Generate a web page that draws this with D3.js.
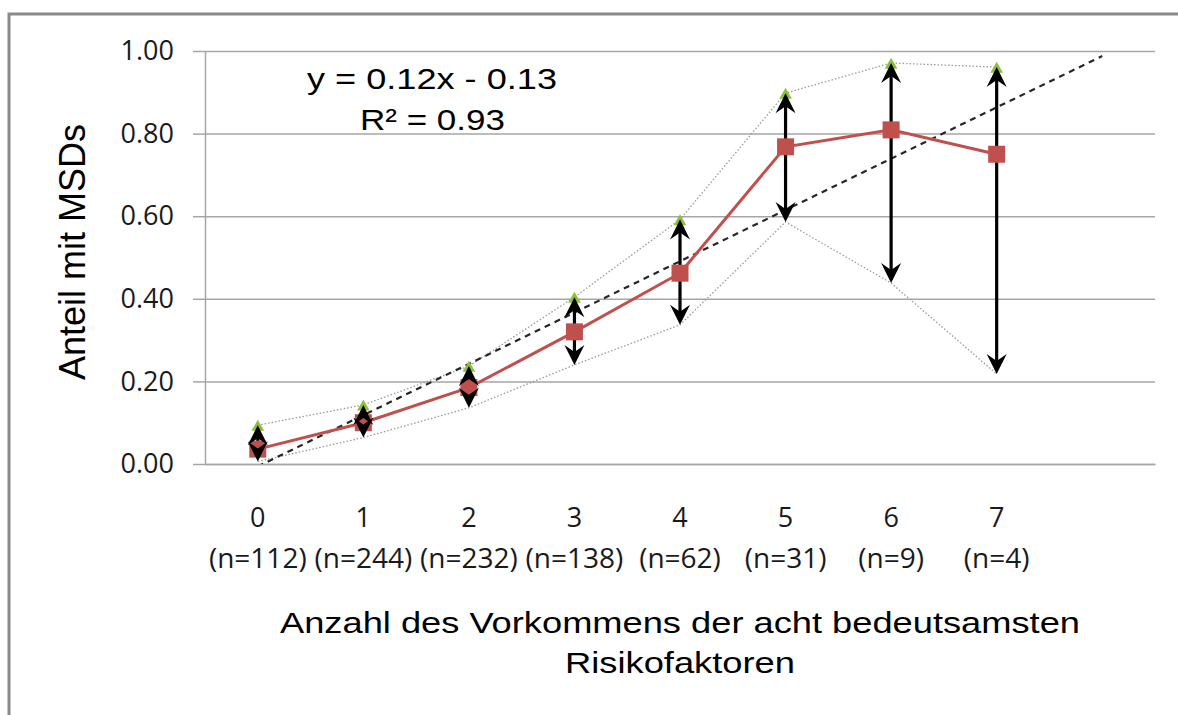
<!DOCTYPE html>
<html lang="de">
<head>
    <meta charset="UTF-8">
    <title>Anteil mit MSDs</title>
    <style>
        body { margin: 0; background: #fff; }
        svg { display: block; }
    </style>
</head>
<body>
    <div id="chart"></div>
    <script src="https://d3js.org/d3.v7.min.js"></script>
    <script>
        const width = 1178;
        const height = 715;

        // data
        const categories = ["0", "1", "2", "3", "4", "5", "6", "7"];
        const nLabels = ["(n=112)", "(n=244)", "(n=232)", "(n=138)", "(n=62)", "(n=31)", "(n=9)", "(n=4)"];
        const shares = [0.036, 0.10, 0.185, 0.32, 0.462, 0.768, 0.809, 0.75];
        const upper = [0.094, 0.143, 0.237, 0.404, 0.592, 0.898, 0.971, 0.961];
        const lower = [0.006, 0.064, 0.136, 0.240, 0.337, 0.586, 0.438, 0.218];
        const yTicks = [0, 0.2, 0.4, 0.6, 0.8, 1.0];
        const equation = ["y = 0.12x - 0.13", "R\u00b2 = 0.93"];

        const plotLeft = 205, plotRight = 1155, plotTop = 51, plotBottom = 464;

        const svg = d3.select("#chart").append("svg")
            .attr("width", width)
            .attr("height", height);

        // outer frame, runs off the right and bottom edge
        svg.append("rect")
            .attr("x", 9).attr("y", 14)
            .attr("width", 1200).attr("height", 800)
            .attr("fill", "none")
            .attr("stroke", "#8a8a8a")
            .attr("stroke-width", 3);

        // 9 slots, last one left empty (trend forecast)
        const x = d3.scaleBand().domain(d3.range(9)).range([plotLeft, plotRight]);
        const cx = i => x(i) + x.bandwidth() / 2;
        const y = d3.scaleLinear().domain([0, 1]).range([plotBottom, plotTop]);

        // grid
        svg.append("g")
            .attr("transform", `translate(${plotLeft},0)`)
            .call(d3.axisLeft(y).tickValues(yTicks).tickSize(-(plotRight - plotLeft)).tickFormat(""))
            .call(g => g.select(".domain").remove())
            .call(g => g.selectAll("line").attr("stroke", "#a6a6a6").attr("stroke-width", 1.5));

        // y axis
        const yAxis = svg.append("g")
            .attr("transform", `translate(${plotLeft},0)`)
            .call(d3.axisLeft(y).tickValues(yTicks).tickSize(12).tickPadding(19)
                .tickFormat(d3.format(".2f")).tickSizeOuter(0));
        yAxis.select(".domain").attr("stroke", "#a6a6a6").attr("stroke-width", 1.5);
        yAxis.selectAll("line").attr("stroke", "#a6a6a6").attr("stroke-width", 1.5);
        yAxis.selectAll("text")
            .attr("font-family", "'Open Sans', sans-serif")
            .attr("font-size", 27)
            .attr("fill", "#1a1a1a");

        // x axis
        const xAxis = svg.append("g")
            .attr("transform", `translate(0,${plotBottom})`)
            .call(d3.axisBottom(x).tickValues(d3.range(8)).tickSize(0).tickSizeOuter(0)
                .tickFormat(i => categories[i]));
        xAxis.select(".domain").attr("stroke", "#a6a6a6").attr("stroke-width", 1.5);
        xAxis.selectAll("text")
            .attr("y", 63).attr("dy", 0)
            .attr("font-family", "'Open Sans', sans-serif")
            .attr("font-size", 27)
            .attr("fill", "#1a1a1a");
        xAxis.selectAll(".tick")
            .append("text")
            .attr("y", 104)
            .attr("text-anchor", "middle")
            .attr("font-family", "'Open Sans', sans-serif")
            .attr("font-size", 28)
            .attr("fill", "#1a1a1a")
            .text(i => nLabels[i]);

        // clip for the trend line
        svg.append("clipPath").attr("id", "plot")
            .append("rect")
            .attr("x", plotLeft).attr("y", plotTop - 10)
            .attr("width", plotRight - plotLeft).attr("height", plotBottom - plotTop + 10);

        const idx = d3.range(categories.length);

        // dotted high/low lines
        const dotted = d3.line().x((d, i) => cx(i)).y(d => y(d));
        [upper, lower].forEach(arr => {
            svg.append("path")
                .attr("d", dotted(arr))
                .attr("fill", "none")
                .attr("stroke", "#9a9a9a")
                .attr("stroke-width", 1.3)
                .attr("stroke-dasharray", "1.5,2");
        });

        // linear trend (x = 1..8, Excel style), forecast one slot
        const xs = idx.map(i => i + 1);
        const mx = d3.mean(xs), my = d3.mean(shares);
        const slope = d3.sum(xs, (v, i) => (v - mx) * (shares[i] - my)) / d3.sum(xs, v => (v - mx) ** 2);
        const intercept = my - slope * mx;
        const trendPts = [1, 9].map(v => [cx(v - 1), y(slope * v + intercept)]);
        svg.append("path")
            .attr("clip-path", "url(#plot)")
            .attr("d", d3.line()(trendPts))
            .attr("fill", "none")
            .attr("stroke", "#262626")
            .attr("stroke-width", 2.2)
            .attr("stroke-dasharray", "6,5");

        // red series line
        svg.append("path")
            .attr("d", d3.line().x((d, i) => cx(i)).y(d => y(d))(shares))
            .attr("fill", "none")
            .attr("stroke", "#c0504d")
            .attr("stroke-width", 3);

        // arrow shafts
        svg.selectAll(".shaft")
            .data(idx)
            .enter().append("line")
            .attr("class", "shaft")
            .attr("x1", i => cx(i)).attr("x2", i => cx(i))
            .attr("y1", i => y(upper[i]) + 8)
            .attr("y2", i => y(lower[i]) - 8)
            .attr("stroke", "#000")
            .attr("stroke-width", 3.2);

        // red squares
        svg.selectAll(".sq")
            .data(idx)
            .enter().append("rect")
            .attr("class", "sq")
            .attr("x", i => cx(i) - 8.5)
            .attr("y", i => y(shares[i]) - 8.5)
            .attr("width", 17).attr("height", 17)
            .attr("fill", "#c0504d");

        // green high markers
        svg.selectAll(".hi")
            .data(idx)
            .enter().append("path")
            .attr("class", "hi")
            .attr("transform", i => `translate(${cx(i)},${y(upper[i]) + 2})`)
            .attr("d", d3.symbol(d3.symbolTriangle, 70))
            .attr("fill", "#8fbf3a");

        // arrow heads
        const head = "M0,0 L10,20 L0,13 L-10,20 Z";
        svg.selectAll(".headUp")
            .data(idx)
            .enter().append("path")
            .attr("class", "headUp")
            .attr("transform", i => `translate(${cx(i)},${y(upper[i])})`)
            .attr("d", head)
            .attr("fill", "#000");
        svg.selectAll(".headDown")
            .data(idx)
            .enter().append("path")
            .attr("class", "headDown")
            .attr("transform", i => `translate(${cx(i)},${y(lower[i])}) rotate(180)`)
            .attr("d", head)
            .attr("fill", "#000");

        // trend equation
        svg.append("text")
            .attr("x", 307).attr("y", 89)
            .attr("font-family", "'Liberation Sans', Arial, sans-serif")
            .attr("font-size", 30)
            .attr("textLength", 250)
            .attr("lengthAdjust", "spacingAndGlyphs")
            .text(equation[0]);
        svg.append("text")
            .attr("x", 360).attr("y", 130)
            .attr("font-family", "'Liberation Sans', Arial, sans-serif")
            .attr("font-size", 30)
            .attr("textLength", 145)
            .attr("lengthAdjust", "spacingAndGlyphs")
            .text(equation[1]);

        // axis titles
        svg.append("text")
            .attr("transform", "translate(85,252) rotate(-90)")
            .attr("text-anchor", "middle")
            .attr("font-family", "'Liberation Sans', Arial, sans-serif")
            .attr("font-size", 36)
            .text("Anteil mit MSDs");

        svg.append("text")
            .attr("x", 280).attr("y", 633)
            .attr("font-family", "'Liberation Sans', Arial, sans-serif")
            .attr("font-size", 29)
            .attr("textLength", 800)
            .attr("lengthAdjust", "spacingAndGlyphs")
            .text("Anzahl des Vorkommens der acht bedeutsamsten");
        svg.append("text")
            .attr("x", 565).attr("y", 673)
            .attr("font-family", "'Liberation Sans', Arial, sans-serif")
            .attr("font-size", 29)
            .attr("textLength", 230)
            .attr("lengthAdjust", "spacingAndGlyphs")
            .text("Risikofaktoren");
    </script>
</body>
</html>
